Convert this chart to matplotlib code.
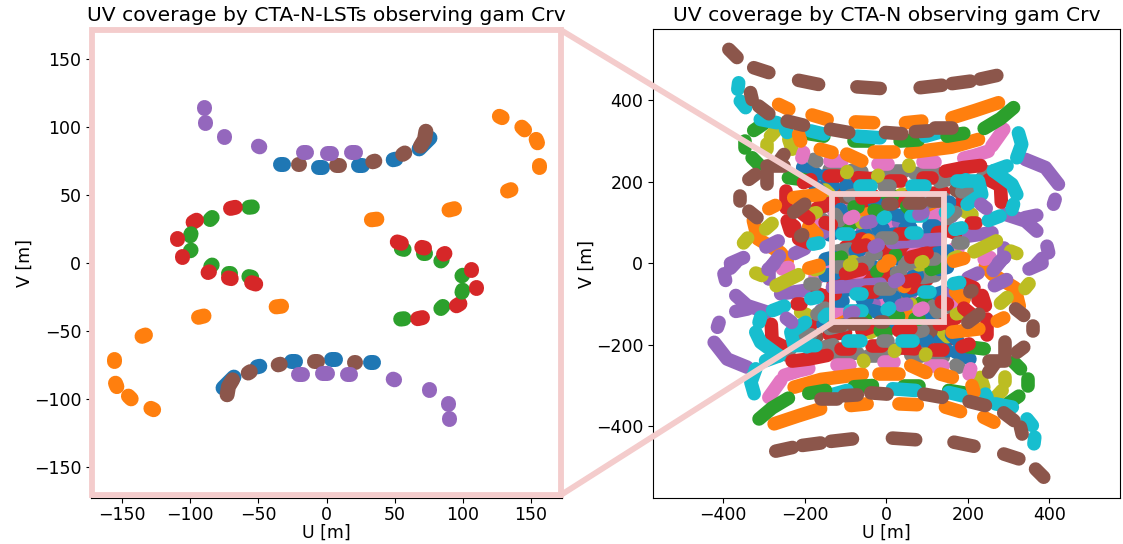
import matplotlib
matplotlib.use("Agg")
import matplotlib.pyplot as plt
from matplotlib.patches import ConnectionPatch, Rectangle

W, H = 1123, 544
FRAME = "#f4cccc"
TAB = {"blue": "#1f77b4", "orange": "#ff7f0e", "green": "#2ca02c", "red": "#d62728",
       "purple": "#9467bd", "brown": "#8c564b", "pink": "#e377c2", "gray": "#7f7f7f",
       "olive": "#bcbd22", "cyan": "#17becf"}

# LST baselines, one half of the plane only, the other half is (-u, -v)
lst_blue = [[(-34, 73), (-32, 73)], [(-6, 70.6), (-3, 70.6)], [(23, 72), (26, 72)],
            [(49, 76), (51, 76.5)], [(68, 84), (72, 88), (76, 92)]]
lst_orange = [[(127, 108), (129, 107)], [(143.5, 100), (145.5, 98)], [(154, 91), (155, 88.5)],
              [(156, 72), (156, 70.5)], [(133, 53), (135.5, 54)], [(90, 39), (94, 40)],
              [(33, 31.8), (37, 32.3)]]
lst_green = [[(-57, 41), (-54.5, 41.3)], [(-85.5, 32), (-84, 33.5)], [(-100, 20), (-99.5, 21.5)],
             [(-100, 9), (-99.5, 9.5)], [(-85, -2.5), (-84, -1.5)], [(-72, -7), (-71, -7)],
             [(-57, -10), (-55, -10.5)]]
lst_red = [[(-70.5, 40.2), (-67, 41)], [(-98, 30), (-95.5, 31.5)], [(-110, 18), (-110, 18.5)],
           [(-106, 4.5), (-106, 5)], [(-87, -7), (-86, -6.5)], [(-72, -11), (-70, -11.5)],
           [(-55, -14.5), (-52, -15.5)]]
lst_purple = [[(-90, 114), (-90, 114.5)], [(-89, 103), (-89, 103.5)], [(-75, 93), (-75, 93.5)],
              [(-50, 86), (-49, 85.5)], [(-17, 82), (-15, 82)], [(0, 81), (3, 81)],
              [(18, 82), (21, 82)]]
lst_brown = [[(-21, 73), (-20.5, 73)], [(7, 72), (9, 72)], [(34, 74.5), (35.5, 75)],
             [(56, 80), (57.5, 81)], [(69, 86), (72, 91), (73, 97)]]

# full array baselines that lie under the rest, same half plane convention
under_red = [[(-160, 185), (-120, 175)], [(-60, 130), (-20, 130)], [(20, 150), (60, 165)], [(100, 170), (140, 175)],
             [(170, 140), (215, 165)], [(-170, 135), (-130, 150)], [(-100, 40), (-60, 60)], [(0, 30), (40, 35)],
             [(90, 40), (130, 50)], [(140, 85), (180, 70)]]
under_gray = [[(-140, 230), (-90, 215)], [(-30, 210), (30, 220)], [(70, 220), (120, 225)], [(-160, 110), (-130, 90)],
              [(-40, 70), (-10, 75)], [(50, 40), (80, 45)], [(100, 150), (140, 160)], [(-90, 165), (-50, 175)],
              [(185, 175), (215, 190)], [(-120, 30), (-90, 35)]]
under_blue = [[(-150, 215), (-130, 190)], [(-100, 190), (-70, 185)], [(20, 120), (60, 110)], [(-30, 150), (0, 160)],
              [(-80, 60), (-50, 70)], [(80, 60), (110, 70)], [(-10, 20), (30, 10)]]
under_orange = [[(-326, 105), (-315, 60), (-259, 26), (-243, 6)], [(-50, 120), (-10, 130)], [(100, 130), (130, 140)],
                [(40, 30), (70, 25)], [(-110, 20), (-85, 25)]]
under_pink = [[(-130, 130), (-110, 140)], [(0, 90), (30, 100)], [(-60, 20), (-40, 25)], [(110, 110), (130, 120)],
              [(130, 15), (150, 10)]]
under_green = [[(-100, 90), (-80, 100)], [(60, 60), (80, 55)], [(120, 170), (130, 165)], [(-30, 130), (-10, 125)],
               [(0, 170), (15, 165)]]
under_olive = [[(-150, 180), (-140, 170)], [(30, 165), (40, 170)], [(-60, 100), (-40, 95)]]
under_brown = [[(-110, 165), (-70, 155)], [(-150, 140), (-165, 165)], [(170, 180), (195, 165)], [(-180, 110), (-165, 95)]]
under_purple = [[(-60, 75), (-40, 80)], [(30, 100), (50, 105)], [(140, 110), (160, 115)], [(60, 35), (90, 30)],
                [(-100, 125), (-85, 130)]]

# full array baselines on top
n_blue = [[(-205, 235), (-170, 218)], [(-112, 132), (-110, 125)], [(47, 87), (60, 87)], [(105, 92), (120, 92)],
          [(-76, 30), (-65, 32)], [(-20, 83), (-8, 85)], [(-175, 190), (-160, 175)], [(155, 150), (150, 120)],
          [(125, 25), (150, 30)], [(-150, 10), (-130, 15)], [(10, 70), (20, 72)], [(-140, 70), (-125, 75)]]
n_orange = [[(-264, 390), (-239, 378)], [(-182, 364), (-145, 353)], [(-76, 347), (-31, 345)],
            [(47, 345), (87, 349)], [(161, 357), (218, 375), (275, 394)], [(59, 272), (160, 285), (226, 304)],
            [(-31, 272), (18, 272)], [(-215, 316), (-210, 300)], [(-162, 280), (-133, 272)],
            [(-97, 268), (-60, 251)], [(-227, 161), (-161, 169)], [(-288, 134), (-272, 142)],
            [(-45, 56), (-44, 57)], [(5, 6), (8, 6)], [(-190, 90), (-170, 70)], [(165, 5), (190, 12)]]
n_green = [[(-325, 326), (-300, 343)], [(-347, 300), (-347, 284)], [(-329, 259), (-313, 243)],
           [(-190, 318), (-153, 312)], [(-80, 300), (-43, 300)], [(34, 300), (79, 303)],
           [(149, 312), (190, 319)], [(240, 331), (280, 355), (312, 382)], [(-80, 137), (-70, 137)],
           [(-240, 210), (-200, 205)], [(22, 20), (23, 21)], [(-125, 10), (-110, 15)], [(50, 140), (60, 130)]]
n_red = [[(-247, 177), (-247, 136)], [(-235, 79), (-243, 104), (-225, 90)], [(-140, 214), (-118, 214)],
         [(-70, 210), (-40, 208)], [(10, 202), (35, 202)], [(90, 210), (112, 210)],
         [(145, 226), (190, 235), (231, 240)], [(251, 205), (280, 190), (282, 150)], [(208, 100), (220, 100)],
         [(-203, 198), (-185, 205)], [(125, 75), (140, 77)], [(-215, 60), (-190, 50)],
         [(-60, 160), (-30, 165)], [(30, 71), (50, 71)], [(60, 15), (100, 25)],
         [(-215, 130), (-190, 110)], [(-150, 100), (-135, 95)], [(-70, 40), (-50, 45)]]
n_purple = [[(341, 255), (390, 235), (422, 194)], [(414, 157), (410, 145)], [(292, 120), (341, 104), (369, 79)],
            [(340, 112), (369, 118)], [(394, 42), (398, 26)], [(202, 67), (259, 75)],
            [(288, 38), (288, 14)], [(369, -2), (382, 12)], [(-295, 40), (-265, 55)],
            [(-225, 24), (-200, 36)], [(-382, 0), (-350, 14)], [(-280, -5), (-262, 18)],
            [(14, 51), (70, 55), (132, 59)], [(-175, 65), (-150, 78)], [(-50, 100), (-36, 103)],
            [(232, 145), (245, 135)], [(275, 1), (290, 15)], [(80, 120), (90, 125)], [(-30, 40), (-20, 45)]]
n_brown = [[(-386, 525), (-366, 505)], [(-325, 480), (-288, 468)], [(-215, 449), (-166, 439)],
           [(-72, 433), (-15, 429)], [(83, 431), (136, 437)], [(161, 441), (206, 447)], [(230, 452), (271, 461)],
           [(-333, 419), (-329, 402)], [(-313, 386), (-288, 367)], [(-243, 349), (-203, 339)],
           [(-137, 329), (-92, 321)], [(-2, 321), (38, 318)], [(71, 323), (104, 325)], [(120, 333), (161, 333)],
           [(-337, 206), (-321, 218)], [(-359, 165), (-359, 153)], [(-337, 128), (-317, 112)],
           [(-292, 239), (-252, 239)], [(-292, 194), (-292, 225)], [(-251, 267), (-268, 243)],
           [(-227, 125), (-200, 145)], [(-210, 67), (-205, 70)], [(55, 149), (85, 149)], [(5, 145), (15, 145)],
           [(112, 153), (130, 153)]]
n_pink = [[(259, 288), (288, 329)], [(190, 258), (215, 264), (250, 275)], [(90, 249), (120, 249)],
          [(-20, 243), (5, 243)], [(-203, 272), (-207, 259)], [(-138, 251), (-108, 251)], [(240, 10), (255, 14)],
          [(165, 34), (175, 34)], [(65, 22), (80, 22)], [(-175, 85), (-160, 95)], [(-90, 110), (-80, 115)]]
n_gray = [[(-178, 255), (-170, 250)], [(-85, 228), (-60, 225)], [(25, 227), (45, 227)], [(130, 200), (150, 205)],
          [(225, 195), (245, 225)], [(-5, 190), (8, 190)], [(-125, 120), (-115, 105)],
          [(-195, 80), (-180, 70)], [(-58, 1), (-45, 3)], [(-35, 20), (-25, 24)], [(175, 51), (188, 51)],
          [(50, 2), (65, 2)], [(105, 10), (120, 10)], [(-10, 62), (15, 62)], [(150, 110), (170, 125)]]
n_olive = [[(-272, 325), (-284, 312)], [(-292, 292), (-292, 280)], [(-239, 304), (-231, 280)],
           [(-198, 118), (-172, 124)], [(-296, 84), (-280, 98)], [(-350, 50), (-340, 62)],
           [(195, 126), (210, 120)], [(215, 28), (270, 55)], [(305, 30), (320, 24)],
           [(-88, 2), (-80, 4)], [(-21, 214), (-20, 216)], [(-97, 223), (-96, 225)], [(55, 241), (56, 238)],
           [(165, 12), (175, 16)], [(85, 2), (90, 4)]]
n_cyan = [[(-362, 443), (-364, 427)], [(-358, 398), (-345, 382)], [(-309, 353), (-268, 345)],
          [(-243, 321), (-247, 329)], [(-186, 325), (-153, 317)], [(-72, 312), (-15, 308)], [(96, 312), (128, 321)],
          [(324, 320), (332, 292), (320, 259)], [(263, 227), (296, 239)], [(263, 227), (308, 194), (320, 169)],
          [(312, 145), (308, 132)], [(173, 202), (226, 202), (234, 169), (198, 145)], [(250, 105), (279, 116)],
          [(168, 83), (185, 87)], [(-65, 190), (-38, 190)], [(62, 190), (95, 190)], [(60, 116), (88, 116)],
          [(-108, 71), (-92, 71)], [(145, 125), (152, 132)], [(-180, 47), (-165, 50)], [(60, 75), (75, 75)],
          [(-8, 110), (-2, 114)], [(185, 200), (195, 205)]]

lst_tracks = [("blue", lst_blue), ("orange", lst_orange), ("green", lst_green),
              ("red", lst_red), ("purple", lst_purple), ("brown", lst_brown)]
under_tracks = [("red", under_red), ("gray", under_gray), ("blue", under_blue), ("orange", under_orange),
                ("pink", under_pink), ("green", under_green), ("olive", under_olive), ("brown", under_brown),
                ("purple", under_purple)]
n_tracks = [("cyan", n_cyan), ("blue", n_blue), ("orange", n_orange), ("green", n_green), ("red", n_red),
            ("purple", n_purple), ("brown", n_brown), ("pink", n_pink), ("gray", n_gray),
            ("olive", n_olive)]
zoom_box_u = [-132, 142]
zoom_box_v = [-145, 169]


def draw_tracks(ax, tracks, width):
    # one track of each colour at a time, so the colours overlap like the baselines do
    rounds = max(len(group) for _, group in tracks)
    for i in range(rounds):
        for name, group in tracks:
            if i >= len(group):
                continue
            u = [p[0] for p in group[i]]
            v = [p[1] for p in group[i]]
            for sign in (1, -1):
                ax.plot([sign * x for x in u], [sign * y for y in v], color=TAB[name], lw=width,
                        solid_capstyle="round", solid_joinstyle="round")


def px_axes(fig, x0, x1, y0, y1):
    return fig.add_axes([x0 / W, 1 - y1 / H, (x1 - x0) / W, (y1 - y0) / H])


fig = plt.figure(figsize=(W / 100, H / 100), dpi=100)
ax1 = px_axes(fig, 91, 562, 28, 498)
ax2 = px_axes(fig, 653, 1120, 29, 498)

draw_tracks(ax1, lst_tracks, 10.8)
draw_tracks(ax2, under_tracks, 9.8)
draw_tracks(ax2, n_tracks, 9.8)

ax1.set_xlim(-173, 173)
ax1.set_ylim(-173, 173)
ax2.set_xlim(-572, 573)
ax2.set_ylim(-576, 575)
ax1.set_title("UV coverage by CTA-N-LSTs observing gam Crv", fontsize=14.6, pad=5)
ax2.set_title("UV coverage by CTA-N observing gam Crv", fontsize=14.6, pad=6)
for ax in (ax1, ax2):
    ax.set_xlabel("U [m]", fontsize=12.5, labelpad=0)
    ax.set_ylabel("V [m]", fontsize=12.5, labelpad=0)
    ax.tick_params(labelsize=12.5)
    ax.tick_params(axis="x", pad=2)
ax1.set_xticks([-150, -100, -50, 0, 50, 100, 150])
ax1.set_yticks([-150, -100, -50, 0, 50, 100, 150])

# pink frame round the left panel, box on the right one, and the two joining lines
ax1.add_patch(Rectangle((0.003, 0.006), 0.994, 0.99, transform=ax1.transAxes, fill=False,
                        ec=FRAME, lw=4.2, clip_on=False, zorder=10))
ax2.add_patch(Rectangle((zoom_box_u[0], zoom_box_v[0]), zoom_box_u[1] - zoom_box_u[0],
                        zoom_box_v[1] - zoom_box_v[0], fill=False, ec=FRAME, lw=4.2, zorder=10))
for fa, ub, vb in [((0.997, 0.996), zoom_box_u[0], zoom_box_v[1]), ((0.997, 0.006), zoom_box_u[0], zoom_box_v[0])]:
    fig.add_artist(ConnectionPatch(fa, (ub, vb), coordsA="axes fraction", coordsB="data", axesA=ax1, axesB=ax2,
                                   color=FRAME, lw=4.2, zorder=10))

fig.savefig("out.png", dpi=100)
